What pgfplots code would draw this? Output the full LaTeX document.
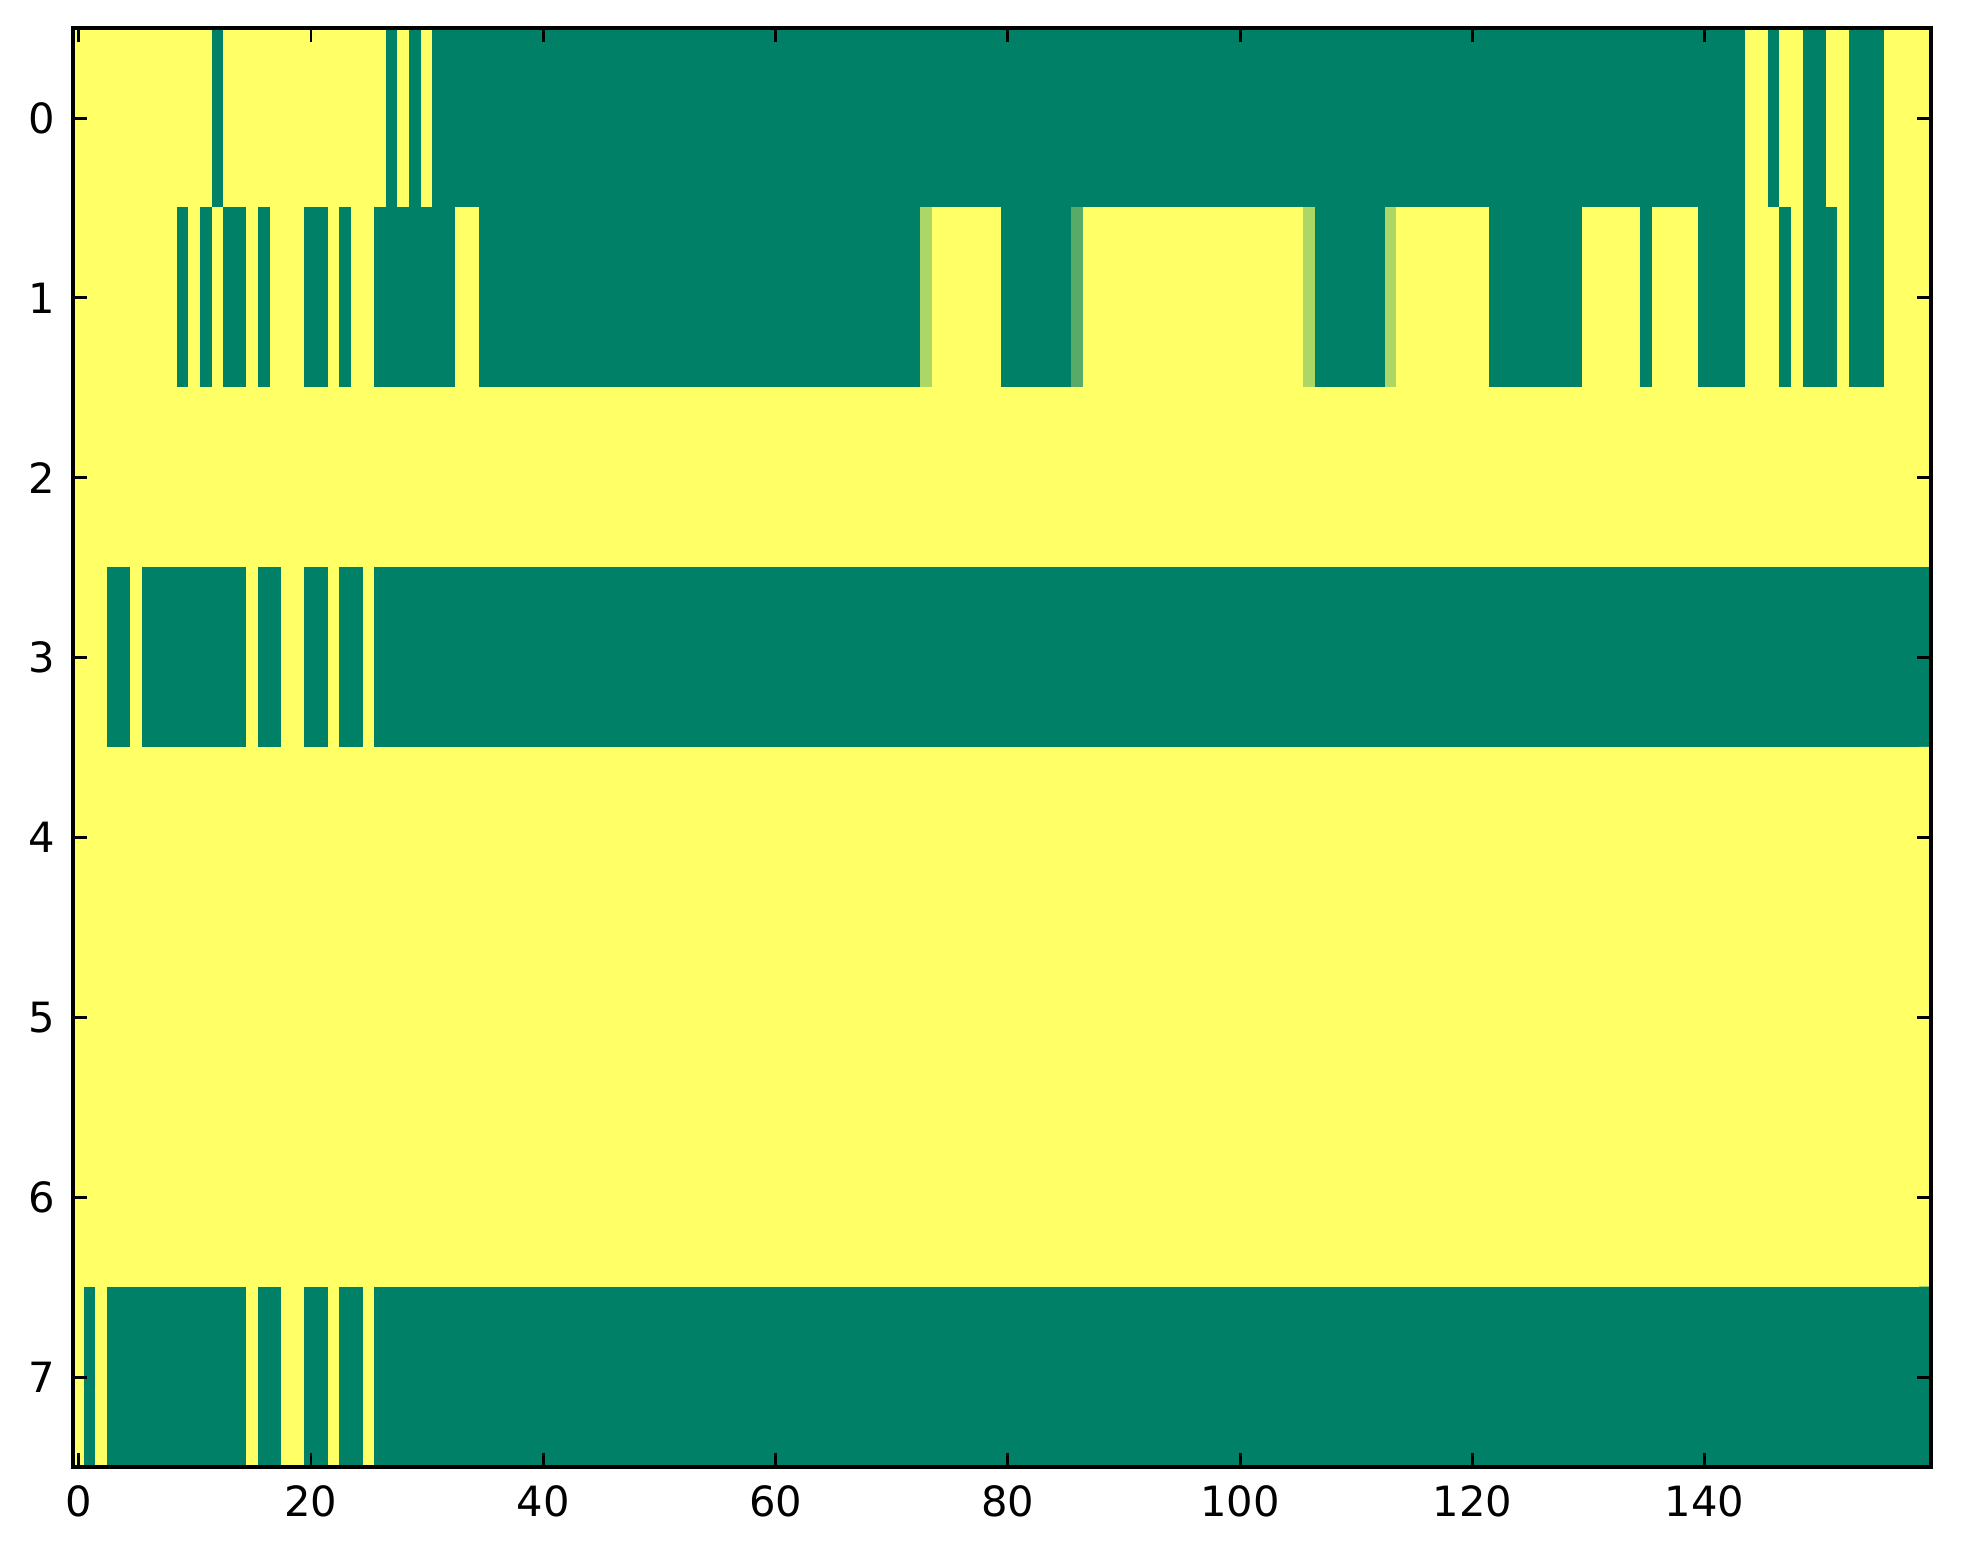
\documentclass[border=0pt]{standalone}
\usepackage{fontspec}
\setmainfont{DejaVu Sans}
\usepackage{pgfplots}
\pgfplotsset{compat=1.18}
\begin{document}
\fontsize{12}{14.4}\selectfont
\begin{tikzpicture}
\begin{axis}[
  scale only axis,
  width=535.1pt, height=414.4pt,
  xmin=-0.5, xmax=159.5, ymin=-0.5, ymax=7.5,
  y dir=reverse,
  xtick={0,20,40,60,80,100,120,140},
  ytick={0,1,2,3,4,5,6,7},
  minor tick num=0,
  tick align=inside,
  major tick length=4pt,
  every tick/.style={black, line width=0.85pt},
  axis line style={line width=1.1pt},
  axis on top,
  tick label style={font=\fontsize{12}{14.4}\selectfont},
  /pgf/number format/assume math mode=true,
  xticklabel style={yshift=-1.2pt},
  yticklabel style={xshift=-1pt},
  colormap={summer}{rgb=(0,0.5,0.4) rgb=(1,1,0.4)},
  point meta min=0, point meta max=1,
]
\addplot[matrix plot*, mesh/cols=160, mesh/rows=8, mesh/ordering=x varies, point meta=explicit]
  table[header=false, row sep=\\, x expr={mod(\coordindex,160)}, y expr={floor(\coordindex/160)}, meta index=0] {
1\\1\\1\\1\\1\\ 1\\1\\1\\1\\1\\ 1\\1\\0\\1\\1\\ 1\\1\\1\\1\\1\\ % r0 c0
1\\1\\1\\1\\1\\ 1\\1\\0\\1\\0\\ 1\\0\\0\\0\\0\\ 0\\0\\0\\0\\0\\ % r0 c20
0\\0\\0\\0\\0\\ 0\\0\\0\\0\\0\\ 0\\0\\0\\0\\0\\ 0\\0\\0\\0\\0\\ % r0 c40
0\\0\\0\\0\\0\\ 0\\0\\0\\0\\0\\ 0\\0\\0\\0\\0\\ 0\\0\\0\\0\\0\\ % r0 c60
0\\0\\0\\0\\0\\ 0\\0\\0\\0\\0\\ 0\\0\\0\\0\\0\\ 0\\0\\0\\0\\0\\ % r0 c80
0\\0\\0\\0\\0\\ 0\\0\\0\\0\\0\\ 0\\0\\0\\0\\0\\ 0\\0\\0\\0\\0\\ % r0 c100
0\\0\\0\\0\\0\\ 0\\0\\0\\0\\0\\ 0\\0\\0\\0\\0\\ 0\\0\\0\\0\\0\\ % r0 c120
0\\0\\0\\0\\1\\ 1\\0\\1\\1\\0\\ 0\\1\\1\\0\\0\\ 0\\1\\1\\1\\1\\ % r0 c140
1\\1\\1\\1\\1\\ 1\\1\\1\\1\\0\\ 1\\0\\1\\0\\0\\ 1\\0\\1\\1\\1\\ % r1 c0
0\\0\\1\\0\\1\\ 1\\0\\0\\0\\0\\ 0\\0\\0\\1\\1\\ 0\\0\\0\\0\\0\\ % r1 c20
0\\0\\0\\0\\0\\ 0\\0\\0\\0\\0\\ 0\\0\\0\\0\\0\\ 0\\0\\0\\0\\0\\ % r1 c40
0\\0\\0\\0\\0\\ 0\\0\\0\\0\\0\\ 0\\0\\0\\0.67\\1\\ 1\\1\\1\\1\\1\\ % r1 c60
0\\0\\0\\0\\0\\ 0\\0.34\\1\\1\\1\\ 1\\1\\1\\1\\1\\ 1\\1\\1\\1\\1\\ % r1 c80
1\\1\\1\\1\\1\\ 1\\0.67\\0\\0\\0\\ 0\\0\\0\\0.67\\1\\ 1\\1\\1\\1\\1\\ % r1 c100
1\\1\\0\\0\\0\\ 0\\0\\0\\0\\0\\ 1\\1\\1\\1\\1\\ 0\\1\\1\\1\\1\\ % r1 c120
0\\0\\0\\0\\1\\ 1\\1\\0\\1\\0\\ 0\\0\\1\\0\\0\\ 0\\1\\1\\1\\1\\ % r1 c140
1\\1\\1\\1\\1\\ 1\\1\\1\\1\\1\\ 1\\1\\1\\1\\1\\ 1\\1\\1\\1\\1\\ % r2 c0
1\\1\\1\\1\\1\\ 1\\1\\1\\1\\1\\ 1\\1\\1\\1\\1\\ 1\\1\\1\\1\\1\\ % r2 c20
1\\1\\1\\1\\1\\ 1\\1\\1\\1\\1\\ 1\\1\\1\\1\\1\\ 1\\1\\1\\1\\1\\ % r2 c40
1\\1\\1\\1\\1\\ 1\\1\\1\\1\\1\\ 1\\1\\1\\1\\1\\ 1\\1\\1\\1\\1\\ % r2 c60
1\\1\\1\\1\\1\\ 1\\1\\1\\1\\1\\ 1\\1\\1\\1\\1\\ 1\\1\\1\\1\\1\\ % r2 c80
1\\1\\1\\1\\1\\ 1\\1\\1\\1\\1\\ 1\\1\\1\\1\\1\\ 1\\1\\1\\1\\1\\ % r2 c100
1\\1\\1\\1\\1\\ 1\\1\\1\\1\\1\\ 1\\1\\1\\1\\1\\ 1\\1\\1\\1\\1\\ % r2 c120
1\\1\\1\\1\\1\\ 1\\1\\1\\1\\1\\ 1\\1\\1\\1\\1\\ 1\\1\\1\\1\\1\\ % r2 c140
1\\1\\1\\0\\0\\ 1\\0\\0\\0\\0\\ 0\\0\\0\\0\\0\\ 1\\0\\0\\1\\1\\ % r3 c0
0\\0\\1\\0\\0\\ 1\\0\\0\\0\\0\\ 0\\0\\0\\0\\0\\ 0\\0\\0\\0\\0\\ % r3 c20
0\\0\\0\\0\\0\\ 0\\0\\0\\0\\0\\ 0\\0\\0\\0\\0\\ 0\\0\\0\\0\\0\\ % r3 c40
0\\0\\0\\0\\0\\ 0\\0\\0\\0\\0\\ 0\\0\\0\\0\\0\\ 0\\0\\0\\0\\0\\ % r3 c60
0\\0\\0\\0\\0\\ 0\\0\\0\\0\\0\\ 0\\0\\0\\0\\0\\ 0\\0\\0\\0\\0\\ % r3 c80
0\\0\\0\\0\\0\\ 0\\0\\0\\0\\0\\ 0\\0\\0\\0\\0\\ 0\\0\\0\\0\\0\\ % r3 c100
0\\0\\0\\0\\0\\ 0\\0\\0\\0\\0\\ 0\\0\\0\\0\\0\\ 0\\0\\0\\0\\0\\ % r3 c120
0\\0\\0\\0\\0\\ 0\\0\\0\\0\\0\\ 0\\0\\0\\0\\0\\ 0\\0\\0\\0\\0\\ % r3 c140
1\\1\\1\\1\\1\\ 1\\1\\1\\1\\1\\ 1\\1\\1\\1\\1\\ 1\\1\\1\\1\\1\\ % r4 c0
1\\1\\1\\1\\1\\ 1\\1\\1\\1\\1\\ 1\\1\\1\\1\\1\\ 1\\1\\1\\1\\1\\ % r4 c20
1\\1\\1\\1\\1\\ 1\\1\\1\\1\\1\\ 1\\1\\1\\1\\1\\ 1\\1\\1\\1\\1\\ % r4 c40
1\\1\\1\\1\\1\\ 1\\1\\1\\1\\1\\ 1\\1\\1\\1\\1\\ 1\\1\\1\\1\\1\\ % r4 c60
1\\1\\1\\1\\1\\ 1\\1\\1\\1\\1\\ 1\\1\\1\\1\\1\\ 1\\1\\1\\1\\1\\ % r4 c80
1\\1\\1\\1\\1\\ 1\\1\\1\\1\\1\\ 1\\1\\1\\1\\1\\ 1\\1\\1\\1\\1\\ % r4 c100
1\\1\\1\\1\\1\\ 1\\1\\1\\1\\1\\ 1\\1\\1\\1\\1\\ 1\\1\\1\\1\\1\\ % r4 c120
1\\1\\1\\1\\1\\ 1\\1\\1\\1\\1\\ 1\\1\\1\\1\\1\\ 1\\1\\1\\1\\1\\ % r4 c140
1\\1\\1\\1\\1\\ 1\\1\\1\\1\\1\\ 1\\1\\1\\1\\1\\ 1\\1\\1\\1\\1\\ % r5 c0
1\\1\\1\\1\\1\\ 1\\1\\1\\1\\1\\ 1\\1\\1\\1\\1\\ 1\\1\\1\\1\\1\\ % r5 c20
1\\1\\1\\1\\1\\ 1\\1\\1\\1\\1\\ 1\\1\\1\\1\\1\\ 1\\1\\1\\1\\1\\ % r5 c40
1\\1\\1\\1\\1\\ 1\\1\\1\\1\\1\\ 1\\1\\1\\1\\1\\ 1\\1\\1\\1\\1\\ % r5 c60
1\\1\\1\\1\\1\\ 1\\1\\1\\1\\1\\ 1\\1\\1\\1\\1\\ 1\\1\\1\\1\\1\\ % r5 c80
1\\1\\1\\1\\1\\ 1\\1\\1\\1\\1\\ 1\\1\\1\\1\\1\\ 1\\1\\1\\1\\1\\ % r5 c100
1\\1\\1\\1\\1\\ 1\\1\\1\\1\\1\\ 1\\1\\1\\1\\1\\ 1\\1\\1\\1\\1\\ % r5 c120
1\\1\\1\\1\\1\\ 1\\1\\1\\1\\1\\ 1\\1\\1\\1\\1\\ 1\\1\\1\\1\\1\\ % r5 c140
1\\1\\1\\1\\1\\ 1\\1\\1\\1\\1\\ 1\\1\\1\\1\\1\\ 1\\1\\1\\1\\1\\ % r6 c0
1\\1\\1\\1\\1\\ 1\\1\\1\\1\\1\\ 1\\1\\1\\1\\1\\ 1\\1\\1\\1\\1\\ % r6 c20
1\\1\\1\\1\\1\\ 1\\1\\1\\1\\1\\ 1\\1\\1\\1\\1\\ 1\\1\\1\\1\\1\\ % r6 c40
1\\1\\1\\1\\1\\ 1\\1\\1\\1\\1\\ 1\\1\\1\\1\\1\\ 1\\1\\1\\1\\1\\ % r6 c60
1\\1\\1\\1\\1\\ 1\\1\\1\\1\\1\\ 1\\1\\1\\1\\1\\ 1\\1\\1\\1\\1\\ % r6 c80
1\\1\\1\\1\\1\\ 1\\1\\1\\1\\1\\ 1\\1\\1\\1\\1\\ 1\\1\\1\\1\\1\\ % r6 c100
1\\1\\1\\1\\1\\ 1\\1\\1\\1\\1\\ 1\\1\\1\\1\\1\\ 1\\1\\1\\1\\1\\ % r6 c120
1\\1\\1\\1\\1\\ 1\\1\\1\\1\\1\\ 1\\1\\1\\1\\1\\ 1\\1\\1\\1\\1\\ % r6 c140
1\\0\\1\\0\\0\\ 0\\0\\0\\0\\0\\ 0\\0\\0\\0\\0\\ 1\\0\\0\\1\\1\\ % r7 c0
0\\0\\1\\0\\0\\ 1\\0\\0\\0\\0\\ 0\\0\\0\\0\\0\\ 0\\0\\0\\0\\0\\ % r7 c20
0\\0\\0\\0\\0\\ 0\\0\\0\\0\\0\\ 0\\0\\0\\0\\0\\ 0\\0\\0\\0\\0\\ % r7 c40
0\\0\\0\\0\\0\\ 0\\0\\0\\0\\0\\ 0\\0\\0\\0\\0\\ 0\\0\\0\\0\\0\\ % r7 c60
0\\0\\0\\0\\0\\ 0\\0\\0\\0\\0\\ 0\\0\\0\\0\\0\\ 0\\0\\0\\0\\0\\ % r7 c80
0\\0\\0\\0\\0\\ 0\\0\\0\\0\\0\\ 0\\0\\0\\0\\0\\ 0\\0\\0\\0\\0\\ % r7 c100
0\\0\\0\\0\\0\\ 0\\0\\0\\0\\0\\ 0\\0\\0\\0\\0\\ 0\\0\\0\\0\\0\\ % r7 c120
0\\0\\0\\0\\0\\ 0\\0\\0\\0\\0\\ 0\\0\\0\\0\\0\\ 0\\0\\0\\0\\0\\ % r7 c140
};
\end{axis}
\pgfresetboundingbox
\path ([shift={(-21pt,-28pt)}]current axis.south west) rectangle ([shift={(9.2pt,8.1pt)}]current axis.north east);
\end{tikzpicture}
\end{document}
